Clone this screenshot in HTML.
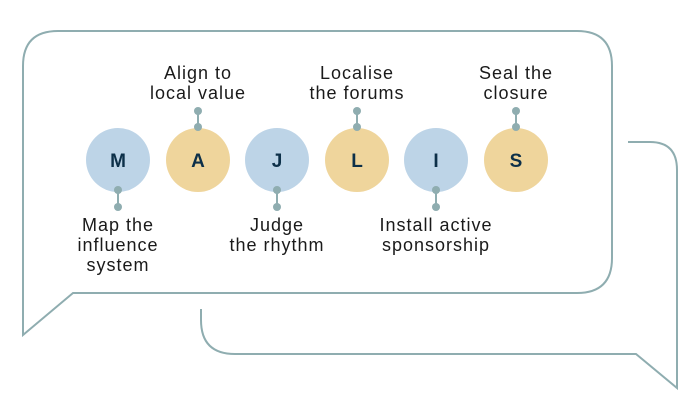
<!DOCTYPE html>
<html><head><meta charset="utf-8"><style>
html,body{margin:0;padding:0;background:#fff;}
svg{display:block}
text{font-family:"Liberation Sans",sans-serif;}
</style></head><body>
<svg width="700" height="420" viewBox="0 0 700 420">
<g fill="none" stroke="#8fadb0" stroke-width="2">
<path d="M73 293 L23 335 L23 66 Q23 31 58 31 L577 31 Q612 31 612 66 L612 258 Q612 293 577 293 Z"/>
<path d="M628 142 L650 142 Q677 142 677 170 L677 388 L636 354 L235 354 Q201 354 201 320 L201 309"/>
<g>
<line x1="198" y1="111" x2="198" y2="127"/><line x1="357" y1="111" x2="357" y2="127"/><line x1="516" y1="111" x2="516" y2="127"/>
<line x1="118" y1="190" x2="118" y2="207"/><line x1="277" y1="190" x2="277" y2="207"/><line x1="436" y1="190" x2="436" y2="207"/>
</g>
</g>
<circle cx="118" cy="160" r="32" fill="#bdd4e7"/>
<circle cx="198" cy="160" r="32" fill="#efd59c"/>
<circle cx="277" cy="160" r="32" fill="#bdd4e7"/>
<circle cx="357" cy="160" r="32" fill="#efd59c"/>
<circle cx="436" cy="160" r="32" fill="#bdd4e7"/>
<circle cx="516" cy="160" r="32" fill="#efd59c"/>
<g fill="#8fadb0">
<circle cx="198" cy="111" r="4"/><circle cx="198" cy="127" r="4"/>
<circle cx="357" cy="111" r="4"/><circle cx="357" cy="127" r="4"/>
<circle cx="516" cy="111" r="4"/><circle cx="516" cy="127" r="4"/>
<circle cx="118" cy="190" r="4"/><circle cx="118" cy="207" r="4"/>
<circle cx="277" cy="190" r="4"/><circle cx="277" cy="207" r="4"/>
<circle cx="436" cy="190" r="4"/><circle cx="436" cy="207" r="4"/>
</g>
<g fill="#0d3049" font-weight="bold" font-size="19" text-anchor="middle">
<text x="118" y="167">M</text><text x="198" y="167">A</text><text x="277" y="167">J</text>
<text x="357" y="167">L</text><text x="436" y="167">I</text><text x="516" y="167">S</text>
</g>
<g fill="#1a1a1a" font-size="18" letter-spacing="1" text-anchor="middle">
<text x="198" y="79">Align to</text><text x="198" y="99">local value</text>
<text x="357" y="79">Localise</text><text x="357" y="99">the forums</text>
<text x="516" y="79">Seal the</text><text x="516" y="99">closure</text>
<text x="118" y="231">Map the</text><text x="118" y="251">influence</text><text x="118" y="271">system</text>
<text x="277" y="231">Judge</text><text x="277" y="251">the rhythm</text>
<text x="436" y="231">Install active</text><text x="436" y="251">sponsorship</text>
</g>
</svg>
</body></html>
